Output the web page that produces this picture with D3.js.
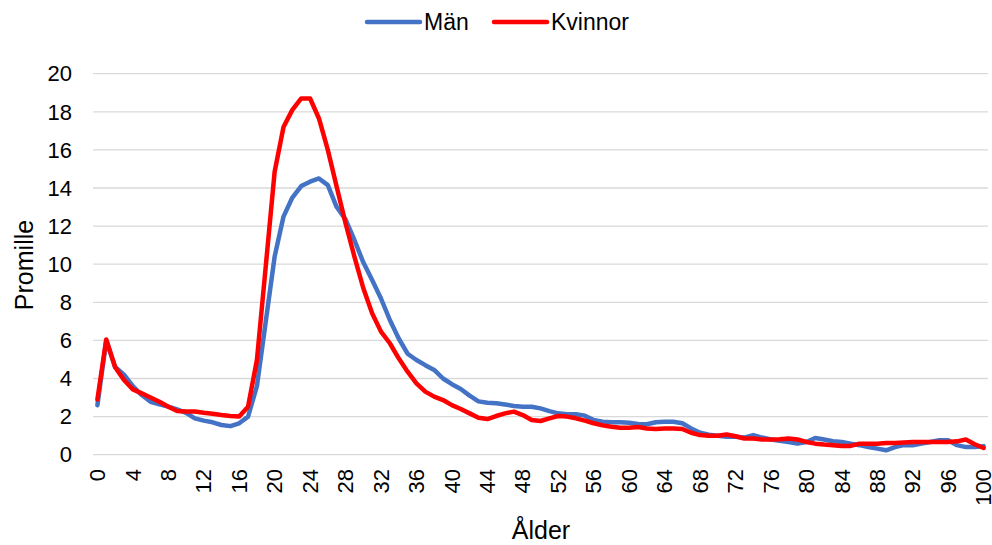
<!DOCTYPE html>
<html>
<head>
  <style>
    body { margin: 0; background: white; }
    text { font-family: "Liberation Sans", Arial, sans-serif; fill: #000; }
  </style>
</head>
<body>
  <script src="https://d3js.org/d3.v7.min.js"></script>
  <script>
    var width = 992, height = 545;

    var ages = d3.range(0, 101);
    var man = [2.6, 6.0, 4.6, 4.2, 3.6, 3.13, 2.78, 2.64, 2.52, 2.38,
      2.2, 1.91, 1.79, 1.7, 1.56, 1.5, 1.65, 2.0, 3.6, 7.0,
      10.4, 12.5, 13.5, 14.1, 14.33, 14.5, 14.15, 13.0, 12.35, 11.27,
      10.1, 9.17, 8.2, 7.07, 6.1, 5.3, 4.97, 4.7, 4.45, 4.0,
      3.7, 3.45, 3.1, 2.8, 2.73, 2.7, 2.64, 2.56, 2.52, 2.52,
      2.43, 2.29, 2.17, 2.12, 2.12, 2.05, 1.82, 1.73, 1.7, 1.7,
      1.68, 1.61, 1.6, 1.7, 1.73, 1.73, 1.65, 1.38, 1.15, 1.05,
      1.0, 0.94, 0.94, 0.9, 1.03, 0.9, 0.8, 0.73, 0.67, 0.58,
      0.67, 0.88, 0.8, 0.71, 0.67, 0.58, 0.5, 0.4, 0.32, 0.23,
      0.4, 0.5, 0.5, 0.58, 0.67, 0.76, 0.76, 0.5, 0.4, 0.4,
      0.45];
    var kvinnor = [2.9, 6.05, 4.59, 3.92, 3.43, 3.22, 3.0, 2.78, 2.52, 2.29,
      2.27, 2.27, 2.2, 2.15, 2.08, 2.03, 2.0, 2.52, 4.97, 9.9,
      14.85, 17.2, 18.1, 18.7, 18.7, 17.65, 16.0, 14.07, 12.15, 10.4,
      8.75, 7.42, 6.46, 5.85, 5.06, 4.36, 3.75, 3.31, 3.05, 2.87,
      2.6, 2.4, 2.17, 1.94, 1.87, 2.03, 2.17, 2.26, 2.08, 1.82,
      1.77, 1.91, 2.03, 2.0, 1.91, 1.79, 1.65, 1.54, 1.47, 1.42,
      1.42, 1.45, 1.38, 1.35, 1.38, 1.38, 1.35, 1.15, 1.03, 1.0,
      1.0, 1.06, 0.97, 0.85, 0.85, 0.8, 0.8, 0.81, 0.85, 0.8,
      0.67, 0.58, 0.53, 0.5, 0.46, 0.46, 0.58, 0.58, 0.58, 0.62,
      0.62, 0.64, 0.67, 0.67, 0.67, 0.67, 0.67, 0.7, 0.8, 0.55,
      0.35];
    var yTicks = d3.range(0, 21, 2);
    var xTicks = d3.range(0, 101, 4);

    var series = [
      { name: "Män", values: man, color: "#4472C4" },
      { name: "Kvinnor", values: kvinnor, color: "#FF0000" }
    ];

    var svg = d3.select("body").append("svg")
      .attr("width", width).attr("height", height);

    var x = d3.scalePoint().domain(ages).range([97.4, 983.6]);
    var y = d3.scaleLinear().domain([0, 20]).range([454.7, 73.7]);

    // gridlines
    svg.append("g")
      .selectAll("line")
      .data(yTicks)
      .enter().append("line")
        .attr("x1", 93).attr("x2", 988)
        .attr("y1", d => y(d)).attr("y2", d => y(d))
        .attr("stroke", "#D9D9D9")
        .attr("stroke-width", 1.3);

    // y axis labels
    svg.append("g")
      .selectAll("text")
      .data(yTicks)
      .enter().append("text")
        .attr("x", 72)
        .attr("y", d => y(d))
        .attr("dy", "0.35em")
        .attr("text-anchor", "end")
        .style("font-size", "22px")
        .text(d => d);

    // x axis labels, rotated
    svg.append("g")
      .selectAll("text")
      .data(xTicks)
      .enter().append("text")
        .attr("transform", d => "translate(" + x(d) + ",469) rotate(-90)")
        .attr("dy", "0.35em")
        .attr("text-anchor", "end")
        .style("font-size", "22px")
        .text(d => d);

    // lines
    var line = d3.line()
      .x((d, i) => x(ages[i]))
      .y(d => y(d));

    svg.append("g")
      .selectAll("path")
      .data(series)
      .enter().append("path")
        .attr("d", d => line(d.values))
        .attr("fill", "none")
        .attr("stroke", d => d.color)
        .attr("stroke-width", 4.5)
        .attr("stroke-linejoin", "round")
        .attr("stroke-linecap", "round");

    // axis titles
    svg.append("text")
      .attr("transform", "translate(33,265) rotate(-90)")
      .attr("text-anchor", "middle")
      .style("font-size", "25px")
      .text("Promille");

    svg.append("text")
      .attr("x", 541).attr("y", 539)
      .attr("text-anchor", "middle")
      .style("font-size", "25px")
      .text("Ålder");

    // legend
    var legendX = [367, 494];
    var legend = svg.append("g")
      .selectAll("g")
      .data(series)
      .enter().append("g")
        .attr("transform", (d, i) => "translate(" + legendX[i] + ",22)");
    legend.append("line")
      .attr("x1", 0).attr("x2", 53)
      .attr("stroke", d => d.color)
      .attr("stroke-width", 4.5)
      .attr("stroke-linecap", "round");
    legend.append("text")
      .attr("x", 57)
      .attr("dy", "0.35em")
      .style("font-size", "23px")
      .text(d => d.name);
  </script>
</body>
</html>
